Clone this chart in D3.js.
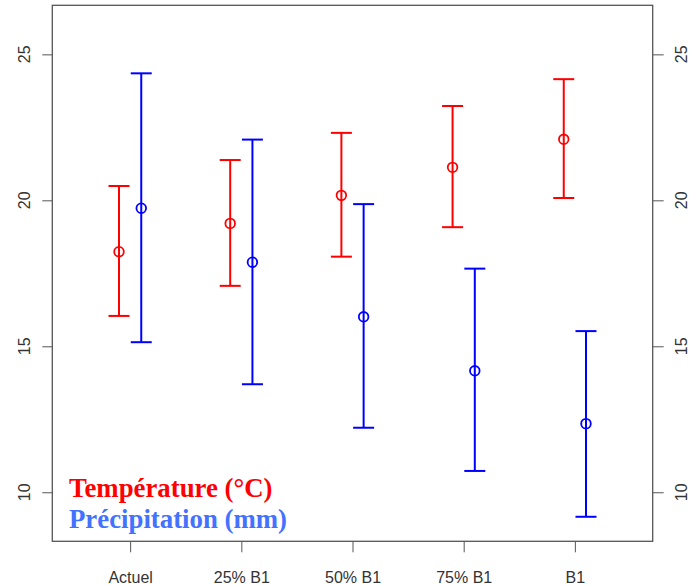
<!DOCTYPE html>
<html>
<head>
<meta charset="utf-8">
<script src="https://cdn.jsdelivr.net/npm/d3@7"></script>
<style>
  html, body { margin: 0; padding: 0; background: #fff; }
  svg { display: block; }
</style>
</head>
<body>
<svg id="chart" width="694" height="585"></svg>
<script>
const categories = ["Actuel", "25% B1", "50% B1", "75% B1", "B1"];
const tempMean  = [18.24, 19.21, 20.17, 21.13, 22.09];
const tempLow   = [16.04, 17.07, 18.07, 19.08, 20.08];
const tempHigh  = [20.49, 21.38, 22.31, 23.23, 24.15];
const precMean  = [19.73, 17.88, 16.01, 14.16, 12.35];
const precLow   = [15.14, 13.70, 12.21, 10.73, 9.16];
const precHigh  = [24.35, 22.08, 19.87, 17.66, 15.52];
const yTicks = [10, 15, 20, 25];
const legendLabels = ["Température (°C)", "Précipitation (mm)"];

const svg = d3.select("#chart");
const mLeft = 52.3, mRight = 652.7, mTop = 5.3, mBottom = 541.3;

// R-style 4% expansion of xlim [0.5,5.5] and ylim [9,26]
const x = d3.scaleLinear().domain([0.3, 5.7]).range([mLeft, mRight]);
const y = d3.scaleLinear().domain([8.32, 26.68]).range([mBottom, mTop]);

const axisColor = "#555";
const textColor = "#333";

// y axes (left and right)
const leftAxis = d3.axisLeft(y).tickValues(yTicks).tickSize(10).tickFormat(d3.format("d"));
const gl = svg.append("g").attr("transform", `translate(${mLeft},0)`).call(leftAxis);
gl.select(".domain").remove();
gl.selectAll("line").attr("stroke", axisColor);
gl.selectAll("text").remove();
yTicks.forEach(t => {
  svg.append("text")
    .attr("transform", `translate(24.7,${y(t)}) rotate(-90)`)
    .attr("text-anchor", "middle").attr("dominant-baseline", "central")
    .attr("font-family", "Liberation Sans, Arial, sans-serif").attr("font-size", 16)
    .attr("fill", textColor).text(t);
});

const rightAxis = d3.axisRight(y).tickValues(yTicks).tickSize(11).tickFormat(d3.format("d"));
const gr = svg.append("g").attr("transform", `translate(${mRight},0)`).call(rightAxis);
gr.select(".domain").remove();
gr.selectAll("line").attr("stroke", axisColor);
gr.selectAll("text").remove();
yTicks.forEach(t => {
  svg.append("text")
    .attr("transform", `translate(681,${y(t)}) rotate(-90)`)
    .attr("text-anchor", "middle").attr("dominant-baseline", "central")
    .attr("font-family", "Liberation Sans, Arial, sans-serif").attr("font-size", 16)
    .attr("fill", textColor).text(t);
});

// x axis
const xAxis = d3.axisBottom(x).tickValues(categories.map((c, i) => i + 1)).tickSize(11)
  .tickFormat((d) => categories[d - 1]);
const gx = svg.append("g").attr("transform", `translate(0,${mBottom})`).call(xAxis);
gx.select(".domain").remove();
gx.selectAll("line").attr("stroke", axisColor);
gx.selectAll("text")
  .attr("font-family", "Liberation Sans, Arial, sans-serif").attr("font-size", 16)
  .attr("fill", textColor).attr("dy", null).attr("y", 41.7);

// box
svg.append("rect").attr("x", mLeft).attr("y", mTop)
  .attr("width", mRight - mLeft).attr("height", mBottom - mTop)
  .attr("fill", "none").attr("stroke", axisColor).attr("stroke-width", 1.3);

// error bars
function drawSeries(mean, low, high, offset, color) {
  const g = svg.append("g");
  const capHalf = 10.5;
  categories.forEach((c, i) => {
    const cx = x(i + 1 + offset);
    g.append("line").attr("x1", cx).attr("x2", cx).attr("y1", y(low[i])).attr("y2", y(high[i]))
      .attr("stroke", color).attr("stroke-width", 2);
    [low[i], high[i]].forEach(v => {
      g.append("line").attr("x1", cx - capHalf).attr("x2", cx + capHalf).attr("y1", y(v)).attr("y2", y(v))
        .attr("stroke", color).attr("stroke-width", 2);
    });
    g.append("circle").attr("cx", cx).attr("cy", y(mean[i])).attr("r", 4.8)
      .attr("fill", "none").attr("stroke", color).attr("stroke-width", 1.8);
  });
}
drawSeries(tempMean, tempLow, tempHigh, -0.1, "#ff0000");
drawSeries(precMean, precLow, precHigh, 0.1, "#0000ff");

// legend text
svg.append("text").attr("x", 69).attr("y", 497)
  .attr("font-family", "Liberation Serif, Times New Roman, serif").attr("font-weight", "bold")
  .attr("font-size", 26.8).attr("fill", "#ff0000").text(legendLabels[0]);
svg.append("text").attr("x", 69).attr("y", 528)
  .attr("font-family", "Liberation Serif, Times New Roman, serif").attr("font-weight", "bold")
  .attr("font-size", 26.8).attr("fill", "#4272ff").text(legendLabels[1]);
</script>
</body>
</html>
